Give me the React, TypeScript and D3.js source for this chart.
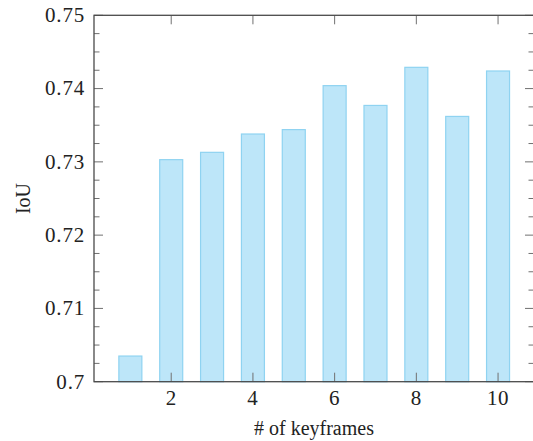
import React from "react";
import * as d3 from "d3";

const keyframes = [1, 2, 3, 4, 5, 6, 7, 8, 9, 10];
const iou = [0.7035, 0.7303, 0.7313, 0.7338, 0.7344, 0.7404, 0.7377, 0.7429, 0.7362, 0.7424];
const xTicks = [2, 4, 6, 8, 10];
const yTicks = [0.7, 0.71, 0.72, 0.73, 0.74, 0.75];
const yTickLabels = ["0.7", "0.71", "0.72", "0.73", "0.74", "0.75"];

const W = 533;
const H = 441;
const left = 94;
const right = 534;
const top = 15.3;
const bottom = 381.7;
const FONT = "Liberation Serif";

export default function App() {
  const x = d3.scaleLinear().domain([0.11, 10.88]).range([left, right]);
  const y = d3.scaleLinear().domain([0.7, 0.75]).range([bottom, top]);
  const minor: number[] = [];
  for (let i = 0; i <= 20; i++) {
    if (i % 4 !== 0) minor.push(0.7 + i * 0.0025);
  }
  const barW = 23;
  const axisColor = "#4a4a4a";
  const tickColor = "#707070";
  return (
    <svg width={W} height={H} style={{ position: "absolute", left: 0, top: 0 }}>
      <rect width={W} height={H} fill="white" />
      {keyframes.map((k, i) => (
        <rect
          key={k}
          x={x(k) - barW / 2}
          y={y(iou[i])}
          width={barW}
          height={y(0.7) - y(iou[i])}
          fill="#bde6f9"
          stroke="#8fd3f1"
          strokeWidth={1.2}
        />
      ))}
      {xTicks.map((t) => (
        <g key={t}>
          <line x1={x(t)} x2={x(t)} y1={bottom} y2={bottom - 9} stroke={tickColor} strokeWidth={1} />
          <line x1={x(t)} x2={x(t)} y1={top} y2={top + 9} stroke={tickColor} strokeWidth={1} />
          <text x={x(t)} y={405} textAnchor="middle" fontSize={21} letterSpacing={0.6} fill="#222" fontFamily={FONT}>
            {t}
          </text>
        </g>
      ))}
      {yTicks.map((t, i) => (
        <g key={t}>
          <line x1={left} x2={left + 9} y1={y(t)} y2={y(t)} stroke={tickColor} strokeWidth={1} />
          <line x1={right} x2={right - 9} y1={y(t)} y2={y(t)} stroke={tickColor} strokeWidth={1} />
          <text x={85} y={y(t) + 6.8} textAnchor="end" fontSize={21} letterSpacing={0.8} fill="#222" fontFamily={FONT}>
            {yTickLabels[i]}
          </text>
        </g>
      ))}
      {minor.map((t) => (
        <g key={t}>
          <line x1={left} x2={left + 5.5} y1={y(t)} y2={y(t)} stroke={tickColor} strokeWidth={1} />
          <line x1={right} x2={right - 5.5} y1={y(t)} y2={y(t)} stroke={tickColor} strokeWidth={1} />
        </g>
      ))}
      <rect x={left} y={top} width={right - left} height={bottom - top} fill="none" stroke={axisColor} strokeWidth={1.3} />
      <text x={314} y={435} textAnchor="middle" fontSize={20} fill="#222" fontFamily={FONT}>
        # of keyframes
      </text>
      <text
        transform={`translate(30, ${(top + bottom) / 2}) rotate(-90)`}
        textAnchor="middle"
        fontSize={20}
        fill="#222"
        fontFamily={FONT}
      >
        IoU
      </text>
    </svg>
  );
}
